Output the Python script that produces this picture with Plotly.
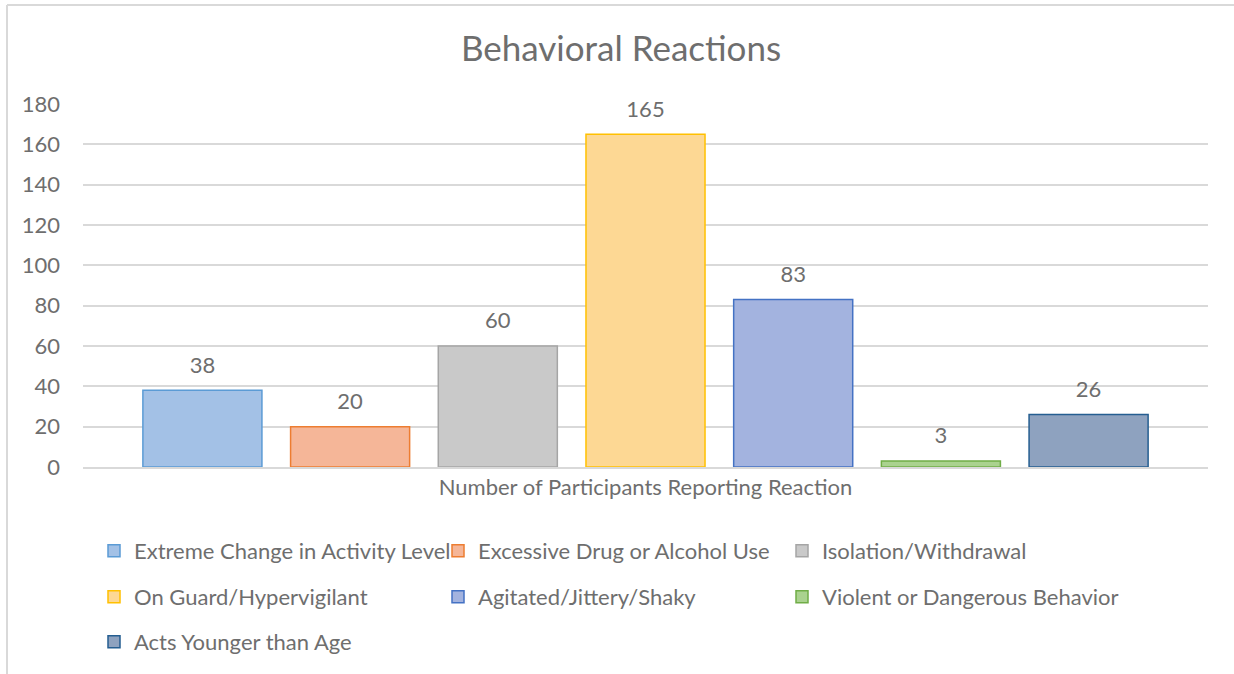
import plotly.graph_objects as go

title = "Behavioral Reactions"
category = "Number of Participants Reporting Reaction"
series_names = [
    "Extreme Change in Activity Level",
    "Excessive Drug or Alcohol Use",
    "Isolation/Withdrawal",
    "On Guard/Hypervigilant",
    "Agitated/Jittery/Shaky",
    "Violent or Dangerous Behavior",
    "Acts Younger than Age",
]
values = [38, 20, 60, 165, 83, 3, 26]
fill_colors = ["#a3c1e6", "#f5b698", "#c9c9c9", "#fdd894", "#a3b3df", "#aad28f", "#8ea2bf"]
line_colors = ["#5b9bd5", "#ed7d31", "#a5a5a5", "#ffc000", "#4472c4", "#70ad47", "#255e91"]
legend_rows = ["legend", "legend", "legend", "legend2", "legend2", "legend2", "legend3"]

W, H = 1234, 674
L, R, T, B = 83, 26, 104, 207
FONT = "Lato"
GREY = "#6e6e6e"
FS = 22

fig = go.Figure()
for i, (name, v, fc, lc, lg) in enumerate(zip(series_names, values, fill_colors, line_colors, legend_rows)):
    fig.add_trace(go.Bar(
        x=[category], y=[v], name=name,
        marker=dict(color=fc, line=dict(color=lc, width=1.5)),
        offsetgroup=str(i), alignmentgroup="g",
        legend=lg,
    ))
for i, v in enumerate(values):
    fig.add_trace(go.Scatter(
        x=[category], y=[v], mode="markers+text",
        marker=dict(size=18, color="rgba(0,0,0,0)"),
        text=[str(v)], textposition="top center", cliponaxis=False,
        textfont=dict(family=FONT, size=FS, color=GREY),
        offsetgroup=str(i), alignmentgroup="g",
        showlegend=False, hoverinfo="skip",
    ))

pw = W - L - R
ph = H - T - B

def px_x(p):
    return (p - L) / pw

def px_y(p):
    return (H - B - p) / ph

leg_common = dict(
    orientation="h", xanchor="left", yanchor="middle",
    font=dict(family=FONT, size=FS, color=GREY),
    entrywidth=299, entrywidthmode="pixels",
    bgcolor="rgba(0,0,0,0)", itemclick=False,
)
lx = px_x(94)
fig.update_layout(
    width=W, height=H,
    margin=dict(l=L, r=R, t=T, b=B, autoexpand=False),
    paper_bgcolor="white", plot_bgcolor="white",
    title=dict(text=title, x=621 / W, xref="container", xanchor="center",
               y=1 - 49 / H, yanchor="middle",
               font=dict(family=FONT, size=35, color=GREY)),
    barmode="group", bargap=0.081, bargroupgap=0.194,
    scattermode="group", scattergap=0.081,
    showlegend=True,
    legend=dict(x=lx, y=px_y(551), **leg_common),
    legend2=dict(x=lx, y=px_y(597), **leg_common),
    legend3=dict(x=lx, y=px_y(642), **leg_common),
    xaxis=dict(showgrid=False, showline=True, linecolor="#d9d9d9", linewidth=1.5,
               ticks="", tickfont=dict(family=FONT, size=FS, color=GREY)),
    yaxis=dict(range=[0, 180], dtick=20, showgrid=True, gridcolor="#d9d9d9", gridwidth=1.5,
               zeroline=False, showline=False, ticks="", ticklabelstandoff=22,
               tickfont=dict(family=FONT, size=FS, color=GREY)),
    shapes=[
        dict(type="line", xref="paper", yref="paper", x0=px_x(7), x1=px_x(7),
             y0=px_y(5), y1=px_y(H + 5), line=dict(color="#d9d9d9", width=2)),
        dict(type="line", xref="paper", yref="paper", x0=px_x(7), x1=px_x(W + 5),
             y0=px_y(5), y1=px_y(5), line=dict(color="#d9d9d9", width=2)),
    ],
)

fig.write_html("out.html", config={"displayModeBar": False},
               post_script="document.body.style.margin='0';")
